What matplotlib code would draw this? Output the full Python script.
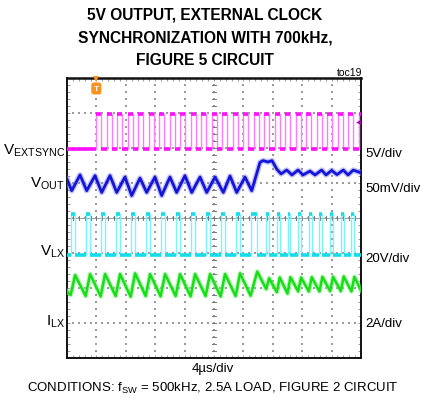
import matplotlib
matplotlib.use("Agg")
import matplotlib.pyplot as plt
import numpy as np

plt.rcParams["font.family"] = ["Liberation Sans", "DejaVu Sans"]
plt.rcParams["mathtext.fontset"] = "custom"
plt.rcParams["mathtext.rm"] = "Liberation Sans"
plt.rcParams["mathtext.default"] = "regular"

# ---------------- scope screen: 4 us/div x 10 div, 8 vertical div ----------------
T_SPAN = 40.0          # us across the screen
N_VDIV = 8

# ---------------- EXTSYNC (5V/div), screen divisions ----------------
EXTSYNC_LOW = 5.97
EXTSYNC_HIGH = 6.97
EXTSYNC_RISE = [3.95, 5.38, 6.81, 8.24, 9.66, 11.09, 12.52, 13.95, 15.38, 16.81,
                18.24, 19.66, 21.09, 22.52, 23.95, 25.38, 26.81, 28.24, 29.66,
                31.09, 32.52, 33.95, 35.38, 36.81, 38.24, 39.66]
EXTSYNC_FALL = [4.67, 6.10, 7.53, 8.96, 10.38, 11.81, 13.24, 14.67, 16.10, 17.53,
                18.96, 20.38, 21.81, 23.24, 24.67, 26.10, 27.53, 28.96, 30.38,
                31.81, 33.24, 34.67, 36.10, 37.53, 38.96]

# ---------------- VOUT ripple (50mV/div): (time us, div) vertices ----------------
VOUT_T = [0.00, 0.64, 1.77, 2.68, 3.81, 4.72, 5.85, 6.76, 7.89, 8.80, 9.93, 10.84,
          11.97, 12.88, 14.01, 14.92, 16.05, 16.97, 18.10, 19.01, 20.14, 21.27,
          22.18, 23.09, 24.22, 25.13, 26.26, 26.67, 27.35, 27.89, 28.53,
          29.12, 29.89, 30.61, 31.43, 32.11, 33.06, 33.74, 34.65, 35.24, 36.01,
          36.73, 37.59, 38.23, 38.95, 40.00]
VOUT_V = [5.11, 4.78, 5.23, 4.78, 5.21, 4.73, 5.21, 4.73, 5.17, 4.64, 5.14, 4.73,
          5.17, 4.64, 5.17, 4.73, 5.21, 4.73, 5.17, 4.73, 5.17, 4.73,
          5.20, 4.73, 5.17, 4.78, 5.59, 5.64, 5.60, 5.64, 5.40,
          5.26, 5.37, 5.23, 5.37, 5.23, 5.34, 5.23, 5.37, 5.23, 5.36,
          5.24, 5.37, 5.23, 5.37, 5.29]

# ---------------- LX switch node (20V/div) ----------------
LX_LOW = 2.94
LX_HIGH = 4.12
LX_RISE = [0.50, 2.54, 4.58, 6.62, 8.66, 10.70, 12.74, 14.78, 16.82, 18.86, 20.90,
           22.94, 24.98, 27.10, 28.55, 30.00, 31.45, 32.90, 34.35, 35.80, 37.25,
           38.70]
LX_FALL = [1.10, 3.14, 5.18, 7.22, 9.26, 11.30, 13.34, 15.38, 17.42, 19.46, 21.50,
           23.54, 25.88, 27.50, 28.95, 30.40, 31.85, 33.30, 34.75, 36.20, 37.65,
           39.10]

# ---------------- inductor current (2A/div) ----------------
ILX_START = 1.91
ILX_END = 1.93
ILX_VALLEY = [1.80, 1.77, 1.76, 1.77, 1.75, 1.77, 1.76, 1.77, 1.76, 1.77, 1.76,
              1.77, 1.78, 1.97, 1.88, 1.84, 1.90, 1.90, 1.90, 1.91, 1.91, 1.90]
ILX_PEAK = [2.37, 2.40, 2.40, 2.40, 2.42, 2.40, 2.40, 2.40, 2.40, 2.40, 2.40,
            2.42, 2.47, 2.28, 2.30, 2.31, 2.30, 2.31, 2.32, 2.32, 2.33, 2.32]

LEFT_LABELS = [r"V$_{EXTSYNC}$", r"V$_{OUT}$", r"V$_{LX}$", r"I$_{LX}$"]
RIGHT_LABELS = ["5V/div", "50mV/div", "20V/div", "2A/div"]

W, H = 421, 402
fig = plt.figure(figsize=(W / 100, H / 100), dpi=100)
fig.patch.set_facecolor("white")

L, R, T, B = 67, 361, 79, 359
ax = fig.add_axes([L / W, 1 - B / H, (R - L) / W, (B - T) / H])
ax.set_xlim(0, T_SPAN)
ax.set_ylim(0, N_VDIV)


def px_x(x):
    return x / W


def px_y(y):
    return 1 - y / H


# screen frame and edge graticule ticks
for s in ax.spines.values():
    s.set_linewidth(1.4)
    s.set_color("#111111")
ax.spines["top"].set_linewidth(1.8)
ax.set_xticks(np.arange(0, T_SPAN + 0.01, 0.8))
ax.set_yticks(np.arange(0, N_VDIV + 0.01, 0.2))
ax.tick_params(direction="in", length=2.0, width=0.6, colors="#8a8a8a",
               top=True, right=True, labelbottom=False, labelleft=False)

# dotted graticule
dot_c = "#9a9a9a"
ys = np.arange(0.2, N_VDIV, 0.2)
xs = np.arange(0.8, T_SPAN, 0.8)
for k in range(1, 10):
    ax.scatter(np.full(ys.size, 4.0 * k), ys, s=0.9, marker="s", c=dot_c,
               linewidths=0, zorder=1)
for k in range(1, N_VDIV):
    ax.scatter(xs, np.full(xs.size, float(k)), s=0.9, marker="s", c=dot_c,
               linewidths=0, zorder=1)

# center cross with minor ticks
ax.axhline(4.0, color="#9a9a9a", lw=0.7, zorder=1)
for yv in ys:
    ax.plot([19.75, 20.25], [yv, yv], color="#777777", lw=0.7, zorder=1)
for xv in xs:
    ax.plot([xv, xv], [3.93, 4.07], color="#777777", lw=0.7, zorder=1)


def square_wave(rise, fall, low, high, t_end):
    t = [0.0]
    v = [low]
    for i, r in enumerate(rise):
        t += [r, r]
        v += [low, high]
        if i < len(fall):
            t += [fall[i], fall[i]]
            v += [high, low]
    t.append(t_end)
    v.append(v[-1])
    return np.array(t), np.array(v)


def level_segments(t, v, level):
    segs = []
    for i in range(len(t) - 1):
        if v[i] == level and v[i + 1] == level and t[i + 1] > t[i]:
            segs.append(([t[i], t[i + 1]], [level, level]))
    return segs


# EXTSYNC clock (magenta)
ts, vs = square_wave(EXTSYNC_RISE, EXTSYNC_FALL, EXTSYNC_LOW, EXTSYNC_HIGH, T_SPAN)
ax.plot(ts, vs, color="#ff7cff", lw=1.0, zorder=3)
for lvl in (EXTSYNC_LOW, EXTSYNC_HIGH):
    for sx, sy in level_segments(ts, vs, lvl):
        ax.plot(sx, sy, color="#ff10ff", lw=2.6, solid_capstyle="butt", zorder=4)

# VOUT ripple (blue)
ax.plot(VOUT_T, VOUT_V, color="#8f8fff", lw=4.0, alpha=0.55, zorder=3,
        solid_joinstyle="round")
ax.plot(VOUT_T, VOUT_V, color="#1414d8", lw=2.0, zorder=4,
        solid_joinstyle="round")

# LX switch node (cyan)
tl, vl = square_wave(LX_RISE, LX_FALL, LX_LOW, LX_HIGH, T_SPAN)
ax.plot(tl, vl, color="#7ff3fb", lw=1.0, zorder=3)
for sx, sy in level_segments(tl, vl, LX_LOW):
    ax.plot(sx, sy, color="#16dbe8", lw=2.6, solid_capstyle="butt", zorder=4)
for sx, sy in level_segments(tl, vl, LX_HIGH):
    ax.plot(sx, sy, color="#16dbe8", lw=2.6, solid_capstyle="butt", zorder=4)

# inductor current (green)
ti = [0.0]
vi = [ILX_START]
for r, f, lo, hi in zip(LX_RISE, LX_FALL, ILX_VALLEY, ILX_PEAK):
    ti += [r, f]
    vi += [lo, hi]
ti.append(T_SPAN)
vi.append(ILX_END)
ax.plot(ti, vi, color="#7ff57f", lw=3.4, alpha=0.55, zorder=3)
ax.plot(ti, vi, color="#18de18", lw=1.8, zorder=4)

# trigger marker and trigger level marker
ax.plot([3.99], [7.96], marker="v", ms=5, color="#f7931e", clip_on=False,
        zorder=6, markeredgewidth=0)
ax.text(3.99, 7.70, "T", color="white", fontsize=6, fontweight="bold",
        ha="center", va="center", zorder=7,
        bbox=dict(boxstyle="round,pad=0.3", fc="#f7931e", ec="none"))
ax.plot([39.55], [6.74], marker="<", ms=3.5, color="#b000b0",
        markeredgewidth=0, zorder=6)

# title
title_lines = ["5V OUTPUT, EXTERNAL CLOCK", "SYNCHRONIZATION WITH 700kHz,",
               "FIGURE 5 CIRCUIT"]
for line, base in zip(title_lines, [20, 42.5, 65]):
    fig.text(px_x(205), px_y(base), line, ha="center", va="baseline",
             fontsize=11.2, fontweight="bold")

fig.text(px_x(362), px_y(76), "toc19", ha="right", va="baseline", fontsize=7.5)

# channel labels
for lab, base in zip(LEFT_LABELS, [155, 187.5, 256, 326]):
    fig.text(px_x(65), px_y(base), lab, ha="right", va="baseline", fontsize=11)
for lab, base in zip(RIGHT_LABELS, [157, 192.5, 261.5, 327]):
    fig.text(px_x(365), px_y(base), lab, ha="left", va="baseline", fontsize=9.5)

fig.text(px_x(213), px_y(372), "4\u00b5s/div", ha="center", va="baseline",
         fontsize=9.5)
fig.text(px_x(212.5), px_y(392), r"CONDITIONS: f$_{SW}$ = 500kHz, 2.5A LOAD, FIGURE 2 CIRCUIT",
         ha="center", va="baseline", fontsize=9.5)

fig.savefig("out.png", dpi=100, facecolor="white")
